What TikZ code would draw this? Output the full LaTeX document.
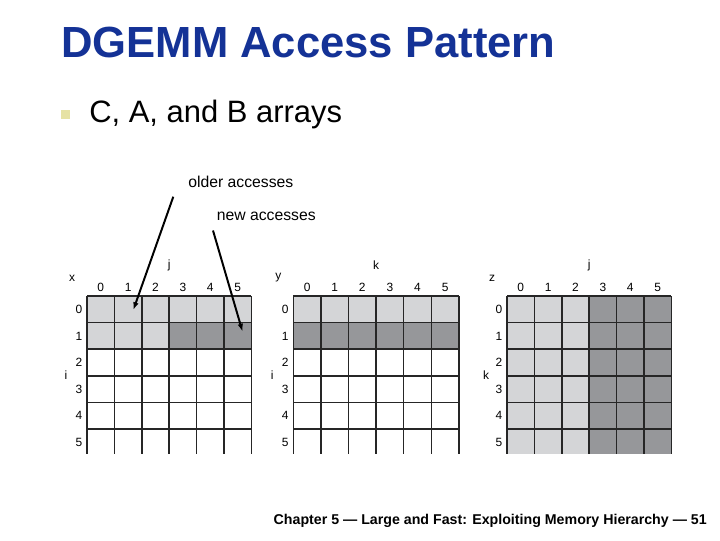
\documentclass[tikz,border=0pt]{standalone}
\usepackage{fontspec}
\setmainfont{Liberation Sans}
\usepackage{xcolor}
\usetikzlibrary{arrows.meta}

\definecolor{titleblue}{RGB}{20,50,150}
\definecolor{litecell}{RGB}{212,213,215}
\definecolor{darkcell}{RGB}{150,151,154}
\definecolor{bulletyellow}{RGB}{230,226,164}

\begin{document}
\begin{tikzpicture}[x=0.025cm, y=-0.025cm,
    lbl/.style={font=\fontsize{8.5}{10}\selectfont, inner sep=0pt},
    note/.style={font=\fontsize{11.2}{13}\selectfont, inner sep=0pt, anchor=base west},
    gridline/.style={line width=1.1pt, black!85},
    pointer/.style={line width=1.4pt, -{Latex[length=5.5pt,width=4pt]}}]
  \useasboundingbox (0,0) rectangle (720,540);

  % heading
  \node (title) [anchor=base west, inner sep=0pt, text=titleblue,
    font=\fontsize{31}{36}\selectfont\bfseries] at (61,57) {DGEMM Access Pattern};
  \fill[bulletyellow] (61,110) rectangle (70,119);
  \node (sub) [anchor=base west, inner sep=0pt, font=\fontsize{22}{26}\selectfont]
    at (89,122) {C, A, and B arrays};

  % cells: x (C), y (A), z (B)
  \foreach \c in {0,...,5} {
    \fill[litecell] (87+27.4*\c,296) rectangle ++(27.4,26.6);
    \fill[litecell] (293.3+27.6*\c,296) rectangle ++(27.6,26.6);
    \fill[darkcell] (293.3+27.6*\c,322.6) rectangle ++(27.6,26.6);
  }
  \foreach \c in {0,1,2}
    \fill[litecell] (87+27.4*\c,322.6) rectangle ++(27.4,26.6);
  \foreach \c in {3,4,5}
    \fill[darkcell] (87+27.4*\c,322.6) rectangle ++(27.4,26.6);
  \fill[litecell] (507,296) rectangle (589.2,454);
  \fill[darkcell] (589.2,296) rectangle (671.4,454);

  % grid lines and indices
  \foreach \gx/\w/\nm/\top/\side [count=\g] in
      {87/27.4/x/j/i, 293.3/27.6/y/k/i, 507/27.4/z/j/k} {
    \foreach \c in {0,...,6}
      \draw[gridline] (\gx+\w*\c,296) -- (\gx+\w*\c,454);
    \foreach \r in {0,...,5}
      \draw[gridline] (\gx,296+26.6*\r) -- (\gx+6*\w,296+26.6*\r);
    \foreach \n in {0,...,5} {
      \node (col\g\n) [lbl] at (\gx+\w*\n+\w/2,287) {\n};
      \node (row\g\n) [lbl] at (\gx-8,309.3+26.6*\n) {\n};
    }
    \node (name\g) [lbl] at (\gx-15,278) {\nm};
    \node (top\g) [lbl] at (\gx+3*\w,265) {\top};
    \node (side\g) [lbl] at (\gx-21,375) {\side};
  }

  % access notes
  \node (older) [note] at (188,187.3) {older accesses};
  \node (newer) [note] at (216.5,220.7) {new accesses};
  \coordinate (olderfoot) at (173.3,196.7);
  \coordinate (olderhit) at (133.3,310);
  \coordinate (newerfoot) at (213,230.5);
  \coordinate (newerhit) at (242.5,331.5);
  \draw[pointer] (olderfoot) -- (olderhit);
  \draw[pointer] (newerfoot) -- (newerhit);

  % footer
  \node (foot) [anchor=base east, inner sep=0pt, font=\fontsize{10.1}{12}\selectfont\bfseries]
    at (707,524) {Chapter 5 — Large and Fast: Exploiting Memory Hierarchy — 51};
\end{tikzpicture}
\end{document}
